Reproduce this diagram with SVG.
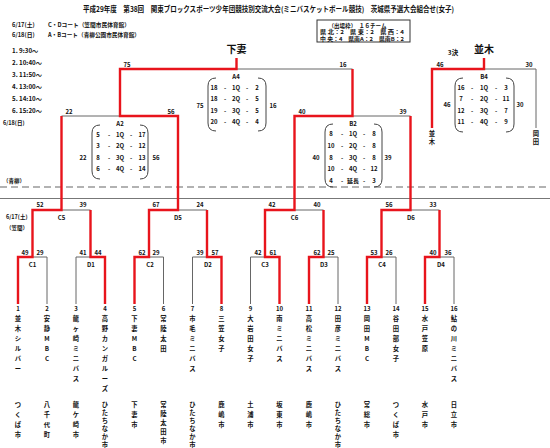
<svg xmlns="http://www.w3.org/2000/svg" width="550" height="448" viewBox="0 0 550 448">
<style>
text{font-family:"Noto Sans CJK JP","Liberation Sans",sans-serif;font-weight:bold;fill:#111}
.s{font-size:6px;text-anchor:middle;dominant-baseline:central}
.l{font-size:6.2px;dominant-baseline:central}
.m{font-size:6.5px;text-anchor:middle;dominant-baseline:central}
.big{font-size:10px;text-anchor:middle;dominant-baseline:central}
.n{font-size:6.3px;text-anchor:middle;dominant-baseline:central}
.g{fill:none;stroke:#666;stroke-width:1}
.r{fill:none;stroke:#e8141c;stroke-width:2.4;stroke-linejoin:miter}
.p{fill:none;stroke:#444;stroke-width:1}
</style>

<g id="header">
<text x="83" y="8" class="l" style="font-size:7.5px" textLength="371" lengthAdjust="spacingAndGlyphs">平成29年度　第38回　関東ブロックスポーツ少年団競技別交流大会(ミニバスケットボール競技)　茨城県予選大会組合せ(女子)</text>
<text x="12" y="24" class="l" style="font-size:5.8px">6/17(土)</text>
<text x="48" y="24" class="l" style="font-size:5.8px" textLength="82" lengthAdjust="spacingAndGlyphs">C・Dコート（笠間市民体育館）</text>
<text x="12" y="34" class="l" style="font-size:5.8px">6/18(日)</text>
<text x="48" y="34" class="l" style="font-size:5.8px" textLength="92" lengthAdjust="spacingAndGlyphs">A・Bコート（青柳公園市民体育館）</text>
<text x="12" y="50" class="l">1. 9:30〜</text>
<text x="12" y="62" class="l">2. 10:40〜</text>
<text x="12" y="74" class="l">3. 11:50〜</text>
<text x="12" y="86" class="l">4. 13:00〜</text>
<text x="12" y="98" class="l">5. 14:10〜</text>
<text x="12" y="110" class="l">6. 15:20〜</text>
<text x="3" y="123" class="l" style="font-size:5.5px">6/18(日)</text>
<text x="3" y="181" class="l" style="font-size:5.5px">（青柳）</text>
<text x="6" y="217" class="l" style="font-size:5.5px">6/17(土)</text>
<text x="6" y="228" class="l" style="font-size:5.5px">（笠間）</text>
</g>

<g id="quota">
<rect x="317" y="20" width="93" height="22" fill="#fff" stroke="#333" stroke-width="1"/>
<text x="357.5" y="25.5" class="s" style="font-size:5.5px" textLength="58" lengthAdjust="spacingAndGlyphs">（出場枠）　１６チーム</text>
<text x="320" y="32" class="l" style="font-size:5.3px" textLength="84" lengthAdjust="spacingAndGlyphs">県 北：2　県 東：2　県 西：4</text>
<text x="320" y="38.5" class="l" style="font-size:5.3px" textLength="84" lengthAdjust="spacingAndGlyphs">中 央：4　県南A：2　県南B：2</text>
</g>

<g id="separators">
<line x1="0" y1="187" x2="550" y2="187" stroke="#999" stroke-width="1.3" stroke-dasharray="7,4"/>
<line x1="0" y1="198.5" x2="550" y2="198.5" stroke="#777" stroke-width="1"/>
</g>

<g id="connectors">
<path class="g" d="M32.5,257H47V304"/>
<path class="g" d="M76,304V257H90.5"/>
<path class="g" d="M149,257H163.5V304"/>
<path class="g" d="M192.5,304V257H207"/>
<path class="g" d="M250.5,304V257H265"/>
<path class="g" d="M323.5,257H338V304"/>
<path class="g" d="M381.5,257H396V304"/>
<path class="g" d="M439.5,257H454V304"/>
<path class="g" d="M61.5,210H90.5"/>
<path class="g" d="M178,210H207"/>
<path class="g" d="M294.5,210H323.5"/>
<path class="g" d="M410.5,210H439.5"/>
<path class="g" d="M61.5,116H120"/>
<path class="g" d="M352.5,116H410.5"/>
<path class="g" d="M236.5,69H352.5"/>
<path class="g" d="M484,69H536V128"/>
<path class="r" d="M18,304V257H32.5V210H61.5V116"/>
<path class="r" d="M105,304V257H90.5V210"/>
<path class="r" d="M134.5,304V257H149V210H178V116H120V69H236.5V58"/>
<path class="r" d="M221.5,304V257H207V210"/>
<path class="r" d="M279.5,304V257H265V210H294.5V116H352.5V69"/>
<path class="r" d="M309,304V257H323.5V210"/>
<path class="r" d="M367,304V257H381.5V210H410.5V116"/>
<path class="r" d="M425,304V257H439.5V210"/>
<path class="r" d="M432,128V69H484V58"/>
</g>

<g id="champion">
<text x="236.5" y="48" class="big">下妻</text>
</g>
<g id="third">
<text x="453" y="52" class="m">3決</text>
<text x="484" y="48" class="big">並木</text>
</g>

<g id="match-A4">
<text x="127" y="64" class="s">75</text>
<text x="343" y="64" class="s">16</text>
<path class="p" d="M216,78Q208,78 208,86V123Q208,131 216,131"/>
<path class="p" d="M258,78Q266,78 266,86V123Q266,131 258,131"/>
<text x="236" y="76" class="s">A4</text>
<text x="200" y="105" class="s">75</text>
<text x="273" y="105" class="s">16</text>
<g class="s">
<text x="214" y="87" class="s">18</text><text x="225" y="87" class="s">-</text><text x="236" y="87" class="s">1Q</text><text x="247" y="87" class="s">-</text><text x="257" y="87" class="s">2</text>
<text x="214" y="98.5" class="s">18</text><text x="225" y="98.5" class="s">-</text><text x="236" y="98.5" class="s">2Q</text><text x="247" y="98.5" class="s">-</text><text x="257" y="98.5" class="s">5</text>
<text x="214" y="110" class="s">19</text><text x="225" y="110" class="s">-</text><text x="236" y="110" class="s">3Q</text><text x="247" y="110" class="s">-</text><text x="257" y="110" class="s">5</text>
<text x="214" y="121.5" class="s">20</text><text x="225" y="121.5" class="s">-</text><text x="236" y="121.5" class="s">4Q</text><text x="247" y="121.5" class="s">-</text><text x="257" y="121.5" class="s">4</text>
</g>
</g>

<g id="match-B4">
<text x="440" y="64" class="s">46</text>
<text x="529" y="64" class="s">30</text>
<path class="p" d="M463,78Q455,78 455,86V124Q455,132 463,132"/>
<path class="p" d="M506,78Q514,78 514,86V124Q514,132 506,132"/>
<text x="484" y="76" class="s">B4</text>
<text x="447" y="104" class="s">46</text>
<text x="520" y="104" class="s">30</text>
<text x="461" y="87" class="s">16</text><text x="472" y="87" class="s">-</text><text x="484" y="87" class="s">1Q</text><text x="496" y="87" class="s">-</text><text x="506" y="87" class="s">3</text>
<text x="461" y="98.5" class="s">7</text><text x="472" y="98.5" class="s">-</text><text x="484" y="98.5" class="s">2Q</text><text x="496" y="98.5" class="s">-</text><text x="506" y="98.5" class="s">11</text>
<text x="461" y="110" class="s">12</text><text x="472" y="110" class="s">-</text><text x="484" y="110" class="s">3Q</text><text x="496" y="110" class="s">-</text><text x="506" y="110" class="s">7</text>
<text x="461" y="121.5" class="s">11</text><text x="472" y="121.5" class="s">-</text><text x="484" y="121.5" class="s">4Q</text><text x="496" y="121.5" class="s">-</text><text x="506" y="121.5" class="s">9</text>
<text x="432" y="133" class="n">並</text><text x="432" y="141" class="n">木</text>
<text x="536" y="133" class="n">岡</text><text x="536" y="141" class="n">田</text>
</g>

<g id="match-A2">
<text x="69" y="111" class="s">22</text>
<text x="171" y="111" class="s">56</text>
<path class="p" d="M100,125Q92,125 92,133V171Q92,179 100,179"/>
<path class="p" d="M140,125Q148,125 148,133V171Q148,179 140,179"/>
<text x="120" y="123" class="s">A2</text>
<text x="83" y="157" class="s">22</text>
<text x="156" y="157" class="s">56</text>
<text x="98" y="134" class="s">5</text><text x="109" y="134" class="s">-</text><text x="120" y="134" class="s">1Q</text><text x="131" y="134" class="s">-</text><text x="142" y="134" class="s">17</text>
<text x="98" y="145.5" class="s">3</text><text x="109" y="145.5" class="s">-</text><text x="120" y="145.5" class="s">2Q</text><text x="131" y="145.5" class="s">-</text><text x="142" y="145.5" class="s">12</text>
<text x="98" y="157" class="s">8</text><text x="109" y="157" class="s">-</text><text x="120" y="157" class="s">3Q</text><text x="131" y="157" class="s">-</text><text x="142" y="157" class="s">13</text>
<text x="98" y="168.5" class="s">6</text><text x="109" y="168.5" class="s">-</text><text x="120" y="168.5" class="s">4Q</text><text x="131" y="168.5" class="s">-</text><text x="142" y="168.5" class="s">14</text>
</g>

<g id="match-B2">
<text x="302" y="111" class="s">40</text>
<text x="403" y="111" class="s">39</text>
<path class="p" d="M333,124Q325,124 325,132V179Q325,187 333,187"/>
<path class="p" d="M374,124Q382,124 382,132V179Q382,187 374,187"/>
<text x="353" y="123" class="s">B2</text>
<text x="316" y="157" class="s">40</text>
<text x="388" y="157" class="s">39</text>
<text x="331" y="133.5" class="s">8</text><text x="342" y="133.5" class="s">-</text><text x="353" y="133.5" class="s">1Q</text><text x="364" y="133.5" class="s">-</text><text x="374" y="133.5" class="s">8</text>
<text x="331" y="145" class="s">10</text><text x="342" y="145" class="s">-</text><text x="353" y="145" class="s">2Q</text><text x="364" y="145" class="s">-</text><text x="374" y="145" class="s">8</text>
<text x="331" y="157" class="s">8</text><text x="342" y="157" class="s">-</text><text x="353" y="157" class="s">3Q</text><text x="364" y="157" class="s">-</text><text x="374" y="157" class="s">8</text>
<text x="331" y="168.5" class="s">10</text><text x="342" y="168.5" class="s">-</text><text x="353" y="168.5" class="s">4Q</text><text x="364" y="168.5" class="s">-</text><text x="374" y="168.5" class="s">12</text>
<text x="331" y="180" class="s">4</text><text x="342" y="180" class="s">-</text><text x="353" y="180" class="s">延長</text><text x="364" y="180" class="s">-</text><text x="374" y="180" class="s">3</text>
</g>

<g id="match-C5"><text x="40" y="204" class="s">52</text><text x="83" y="204" class="s">39</text><text x="61.5" y="217" class="s">C5</text></g>
<g id="match-D5"><text x="156" y="204" class="s">67</text><text x="200" y="204" class="s">24</text><text x="178" y="217" class="s">D5</text></g>
<g id="match-C6"><text x="272" y="204" class="s">42</text><text x="317" y="204" class="s">40</text><text x="294.5" y="217" class="s">C6</text></g>
<g id="match-D6"><text x="389" y="204" class="s">56</text><text x="433" y="204" class="s">33</text><text x="411" y="217" class="s">D6</text></g>

<g id="match-C1"><text x="25" y="252" class="s">49</text><text x="40" y="252" class="s">29</text><text x="32.5" y="264" class="s">C1</text></g>
<g id="match-D1"><text x="83" y="252" class="s">41</text><text x="98" y="252" class="s">44</text><text x="91" y="264" class="s">D1</text></g>
<g id="match-C2"><text x="142" y="252" class="s">62</text><text x="156" y="252" class="s">29</text><text x="150" y="264" class="s">C2</text></g>
<g id="match-D2"><text x="200" y="252" class="s">39</text><text x="215" y="252" class="s">57</text><text x="208" y="264" class="s">D2</text></g>
<g id="match-C3"><text x="258" y="252" class="s">42</text><text x="273" y="252" class="s">61</text><text x="265" y="264" class="s">C3</text></g>
<g id="match-D3"><text x="317" y="252" class="s">62</text><text x="331" y="252" class="s">25</text><text x="324" y="264" class="s">D3</text></g>
<g id="match-C4"><text x="374" y="252" class="s">53</text><text x="389" y="252" class="s">26</text><text x="382" y="264" class="s">C4</text></g>
<g id="match-D4"><text x="433" y="252" class="s">40</text><text x="448" y="252" class="s">36</text><text x="441" y="264" class="s">D4</text></g>

<g id="team1"><text x="18" y="308" class="s">1</text><text class="n"><tspan x="18" y="318">並</tspan><tspan x="18" y="328">木</tspan><tspan x="18" y="338">シ</tspan><tspan x="18" y="348">ル</tspan><tspan x="18" y="358">バ</tspan><tspan x="18" y="368">ー</tspan></text><text class="n"><tspan x="18" y="404">つ</tspan><tspan x="18" y="414">く</tspan><tspan x="18" y="424">ば</tspan><tspan x="18" y="434">市</tspan></text></g>
<g id="team2"><text x="47" y="308" class="s">2</text><text class="n"><tspan x="47" y="318">安</tspan><tspan x="47" y="328">静</tspan><tspan x="47" y="338">M</tspan><tspan x="47" y="348">B</tspan><tspan x="47" y="358">C</tspan></text><text class="n"><tspan x="47" y="404">八</tspan><tspan x="47" y="414">千</tspan><tspan x="47" y="424">代</tspan><tspan x="47" y="434">町</tspan></text></g>
<g id="team3"><text x="76" y="308" class="s">3</text><text class="n"><tspan x="76" y="318">龍</tspan><tspan x="76" y="328">ヶ</tspan><tspan x="76" y="338">崎</tspan><tspan x="76" y="348">ミ</tspan><tspan x="76" y="358">ニ</tspan><tspan x="76" y="368">バ</tspan><tspan x="76" y="378">ス</tspan></text><text class="n"><tspan x="76" y="404">龍</tspan><tspan x="76" y="414">ケ</tspan><tspan x="76" y="424">崎</tspan><tspan x="76" y="434">市</tspan></text></g>
<g id="team4"><text x="105" y="308" class="s">4</text><text class="n"><tspan x="105" y="318">高</tspan><tspan x="105" y="328">野</tspan><tspan x="105" y="338">カ</tspan><tspan x="105" y="348">ン</tspan><tspan x="105" y="358">ガ</tspan><tspan x="105" y="368">ル</tspan><tspan x="105" y="378">ー</tspan><tspan x="105" y="388">ズ</tspan></text><text class="n"><tspan x="105" y="404">ひ</tspan><tspan x="105" y="412">た</tspan><tspan x="105" y="420">ち</tspan><tspan x="105" y="428">な</tspan><tspan x="105" y="436">か</tspan><tspan x="105" y="444">市</tspan></text></g>
<g id="team5"><text x="134.5" y="308" class="s">5</text><text class="n"><tspan x="134.5" y="318">下</tspan><tspan x="134.5" y="328">妻</tspan><tspan x="134.5" y="338">M</tspan><tspan x="134.5" y="348">B</tspan><tspan x="134.5" y="358">C</tspan></text><text class="n"><tspan x="134.5" y="404">下</tspan><tspan x="134.5" y="414">妻</tspan><tspan x="134.5" y="424">市</tspan></text></g>
<g id="team6"><text x="163.5" y="308" class="s">6</text><text class="n"><tspan x="163.5" y="318">常</tspan><tspan x="163.5" y="328">陸</tspan><tspan x="163.5" y="338">太</tspan><tspan x="163.5" y="348">田</tspan></text><text class="n"><tspan x="163.5" y="404">常</tspan><tspan x="163.5" y="413">陸</tspan><tspan x="163.5" y="422">太</tspan><tspan x="163.5" y="431">田</tspan><tspan x="163.5" y="440">市</tspan></text></g>
<g id="team7"><text x="192.5" y="308" class="s">7</text><text class="n"><tspan x="192.5" y="318">市</tspan><tspan x="192.5" y="328">毛</tspan><tspan x="192.5" y="338">ミ</tspan><tspan x="192.5" y="348">ニ</tspan><tspan x="192.5" y="358">バ</tspan><tspan x="192.5" y="368">ス</tspan></text><text class="n"><tspan x="192.5" y="404">ひ</tspan><tspan x="192.5" y="412">た</tspan><tspan x="192.5" y="420">ち</tspan><tspan x="192.5" y="428">な</tspan><tspan x="192.5" y="436">か</tspan><tspan x="192.5" y="444">市</tspan></text></g>
<g id="team8"><text x="221.5" y="308" class="s">8</text><text class="n"><tspan x="221.5" y="318">三</tspan><tspan x="221.5" y="328">笠</tspan><tspan x="221.5" y="338">女</tspan><tspan x="221.5" y="348">子</tspan></text><text class="n"><tspan x="221.5" y="404">鹿</tspan><tspan x="221.5" y="414">嶋</tspan><tspan x="221.5" y="424">市</tspan></text></g>
<g id="team9"><text x="250.5" y="308" class="s">9</text><text class="n"><tspan x="250.5" y="318">大</tspan><tspan x="250.5" y="328">岩</tspan><tspan x="250.5" y="338">田</tspan><tspan x="250.5" y="348">女</tspan><tspan x="250.5" y="358">子</tspan></text><text class="n"><tspan x="250.5" y="404">土</tspan><tspan x="250.5" y="414">浦</tspan><tspan x="250.5" y="424">市</tspan></text></g>
<g id="team10"><text x="279.5" y="308" class="s">10</text><text class="n"><tspan x="279.5" y="318">南</tspan><tspan x="279.5" y="328">ミ</tspan><tspan x="279.5" y="338">ニ</tspan><tspan x="279.5" y="348">バ</tspan><tspan x="279.5" y="358">ス</tspan></text><text class="n"><tspan x="279.5" y="404">坂</tspan><tspan x="279.5" y="414">東</tspan><tspan x="279.5" y="424">市</tspan></text></g>
<g id="team11"><text x="309" y="308" class="s">11</text><text class="n"><tspan x="309" y="318">高</tspan><tspan x="309" y="328">松</tspan><tspan x="309" y="338">ミ</tspan><tspan x="309" y="348">ニ</tspan><tspan x="309" y="358">バ</tspan><tspan x="309" y="368">ス</tspan></text><text class="n"><tspan x="309" y="404">鹿</tspan><tspan x="309" y="414">嶋</tspan><tspan x="309" y="424">市</tspan></text></g>
<g id="team12"><text x="338" y="308" class="s">12</text><text class="n"><tspan x="338" y="318">田</tspan><tspan x="338" y="328">彦</tspan><tspan x="338" y="338">ミ</tspan><tspan x="338" y="348">ニ</tspan><tspan x="338" y="358">バ</tspan><tspan x="338" y="368">ス</tspan></text><text class="n"><tspan x="338" y="404">ひ</tspan><tspan x="338" y="412">た</tspan><tspan x="338" y="420">ち</tspan><tspan x="338" y="428">な</tspan><tspan x="338" y="436">か</tspan><tspan x="338" y="444">市</tspan></text></g>
<g id="team13"><text x="367" y="308" class="s">13</text><text class="n"><tspan x="367" y="318">岡</tspan><tspan x="367" y="328">田</tspan><tspan x="367" y="338">M</tspan><tspan x="367" y="348">B</tspan><tspan x="367" y="358">C</tspan></text><text class="n"><tspan x="367" y="404">常</tspan><tspan x="367" y="414">総</tspan><tspan x="367" y="424">市</tspan></text></g>
<g id="team14"><text x="396" y="308" class="s">14</text><text class="n"><tspan x="396" y="318">谷</tspan><tspan x="396" y="328">田</tspan><tspan x="396" y="338">部</tspan><tspan x="396" y="348">女</tspan><tspan x="396" y="358">子</tspan></text><text class="n"><tspan x="396" y="404">つ</tspan><tspan x="396" y="414">く</tspan><tspan x="396" y="424">ば</tspan><tspan x="396" y="434">市</tspan></text></g>
<g id="team15"><text x="425" y="308" class="s">15</text><text class="n"><tspan x="425" y="318">水</tspan><tspan x="425" y="328">戸</tspan><tspan x="425" y="338">笠</tspan><tspan x="425" y="348">原</tspan></text><text class="n"><tspan x="425" y="404">水</tspan><tspan x="425" y="414">戸</tspan><tspan x="425" y="424">市</tspan></text></g>
<g id="team16"><text x="454" y="308" class="s">16</text><text class="n"><tspan x="454" y="318">鮎</tspan><tspan x="454" y="328">の</tspan><tspan x="454" y="338">川</tspan><tspan x="454" y="348">ミ</tspan><tspan x="454" y="358">ニ</tspan><tspan x="454" y="368">バ</tspan><tspan x="454" y="378">ス</tspan></text><text class="n"><tspan x="454" y="404">日</tspan><tspan x="454" y="414">立</tspan><tspan x="454" y="424">市</tspan></text></g>
</svg>
